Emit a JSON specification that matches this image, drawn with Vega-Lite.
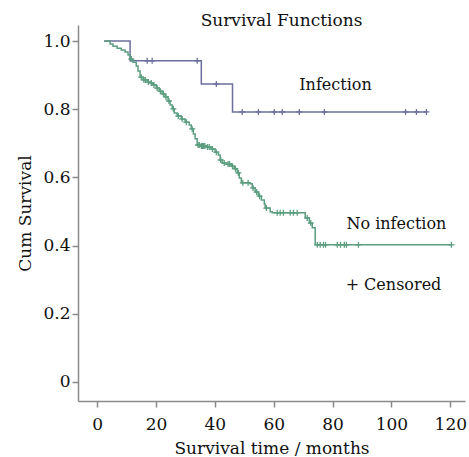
{
  "$schema": "https://vega.github.io/schema/vega-lite/v6.json",
  "width": 387,
  "height": 376,
  "autosize": {"type": "none"},
  "padding": {"left": 78, "top": 25, "right": 4, "bottom": 56},
  "background": "white",
  "config": {
    "view": {"stroke": null},
    "font": "DejaVu Serif",
    "axis": {
      "grid": false,
      "domainColor": "#8a8a8a",
      "domainWidth": 1.5,
      "tickColor": "#8a8a8a",
      "tickWidth": 1.5,
      "tickSize": 6,
      "labelFont": "DejaVu Serif",
      "labelFontSize": 17,
      "labelColor": "#111111",
      "titleFont": "DejaVu Serif",
      "titleFontSize": 17,
      "titleFontWeight": "normal",
      "titleColor": "#111111"
    }
  },
  "title": {
    "text": "Survival Functions",
    "font": "DejaVu Serif",
    "fontSize": 17,
    "fontWeight": "normal",
    "color": "#111111",
    "anchor": "middle",
    "frame": "group",
    "offset": -5,
    "dx": 10
  },
  "datasets": {
    "curves": [
      {"group": "Infection", "time": 2.4, "surv": 1.0},
      {"group": "Infection", "time": 11.2, "surv": 0.942},
      {"group": "Infection", "time": 35.4, "surv": 0.874},
      {"group": "Infection", "time": 46.0, "surv": 0.792},
      {"group": "Infection", "time": 111.9, "surv": 0.792},
      {"group": "No infection", "time": 2.4, "surv": 1.0},
      {"group": "No infection", "time": 4.4, "surv": 0.991},
      {"group": "No infection", "time": 5.4, "surv": 0.985},
      {"group": "No infection", "time": 6.8, "surv": 0.979},
      {"group": "No infection", "time": 8.2, "surv": 0.974},
      {"group": "No infection", "time": 9.5, "surv": 0.968},
      {"group": "No infection", "time": 10.5, "surv": 0.959},
      {"group": "No infection", "time": 11.2, "surv": 0.947},
      {"group": "No infection", "time": 12.2, "surv": 0.938},
      {"group": "No infection", "time": 13.3, "surv": 0.927},
      {"group": "No infection", "time": 13.9, "surv": 0.912},
      {"group": "No infection", "time": 14.6, "surv": 0.894},
      {"group": "No infection", "time": 15.6, "surv": 0.886},
      {"group": "No infection", "time": 17.0, "surv": 0.880},
      {"group": "No infection", "time": 18.0, "surv": 0.877},
      {"group": "No infection", "time": 19.0, "surv": 0.871},
      {"group": "No infection", "time": 20.1, "surv": 0.862},
      {"group": "No infection", "time": 21.1, "surv": 0.853},
      {"group": "No infection", "time": 22.1, "surv": 0.845},
      {"group": "No infection", "time": 23.1, "surv": 0.836},
      {"group": "No infection", "time": 24.1, "surv": 0.824},
      {"group": "No infection", "time": 24.8, "surv": 0.812},
      {"group": "No infection", "time": 25.5, "surv": 0.801},
      {"group": "No infection", "time": 26.2, "surv": 0.789},
      {"group": "No infection", "time": 27.2, "surv": 0.780},
      {"group": "No infection", "time": 28.6, "surv": 0.771},
      {"group": "No infection", "time": 29.9, "surv": 0.762},
      {"group": "No infection", "time": 31.3, "surv": 0.754},
      {"group": "No infection", "time": 32.0, "surv": 0.742},
      {"group": "No infection", "time": 32.7, "surv": 0.727},
      {"group": "No infection", "time": 33.3, "surv": 0.713},
      {"group": "No infection", "time": 34.0, "surv": 0.695},
      {"group": "No infection", "time": 35.0, "surv": 0.692},
      {"group": "No infection", "time": 37.1, "surv": 0.689},
      {"group": "No infection", "time": 38.8, "surv": 0.683},
      {"group": "No infection", "time": 40.1, "surv": 0.674},
      {"group": "No infection", "time": 41.2, "surv": 0.666},
      {"group": "No infection", "time": 41.8, "surv": 0.651},
      {"group": "No infection", "time": 42.5, "surv": 0.642},
      {"group": "No infection", "time": 43.9, "surv": 0.639},
      {"group": "No infection", "time": 45.6, "surv": 0.633},
      {"group": "No infection", "time": 46.6, "surv": 0.625},
      {"group": "No infection", "time": 47.6, "surv": 0.613},
      {"group": "No infection", "time": 48.3, "surv": 0.598},
      {"group": "No infection", "time": 49.0, "surv": 0.584},
      {"group": "No infection", "time": 52.0, "surv": 0.581},
      {"group": "No infection", "time": 52.7, "surv": 0.569},
      {"group": "No infection", "time": 53.7, "surv": 0.557},
      {"group": "No infection", "time": 54.8, "surv": 0.545},
      {"group": "No infection", "time": 55.8, "surv": 0.534},
      {"group": "No infection", "time": 56.8, "surv": 0.522},
      {"group": "No infection", "time": 57.1, "surv": 0.510},
      {"group": "No infection", "time": 58.8, "surv": 0.499},
      {"group": "No infection", "time": 59.5, "surv": 0.496},
      {"group": "No infection", "time": 70.7, "surv": 0.481},
      {"group": "No infection", "time": 72.1, "surv": 0.466},
      {"group": "No infection", "time": 73.1, "surv": 0.452},
      {"group": "No infection", "time": 74.1, "surv": 0.402},
      {"group": "No infection", "time": 120.4, "surv": 0.402}
    ],
    "censored": [
      {"group": "Infection", "time": 17.0, "surv": 0.942},
      {"group": "Infection", "time": 18.7, "surv": 0.942},
      {"group": "Infection", "time": 34.0, "surv": 0.942},
      {"group": "Infection", "time": 40.5, "surv": 0.874},
      {"group": "Infection", "time": 49.3, "surv": 0.792},
      {"group": "Infection", "time": 54.8, "surv": 0.792},
      {"group": "Infection", "time": 60.2, "surv": 0.792},
      {"group": "Infection", "time": 62.9, "surv": 0.792},
      {"group": "Infection", "time": 68.7, "surv": 0.792},
      {"group": "Infection", "time": 77.2, "surv": 0.792},
      {"group": "Infection", "time": 104.8, "surv": 0.792},
      {"group": "Infection", "time": 108.5, "surv": 0.792},
      {"group": "Infection", "time": 111.9, "surv": 0.792},
      {"group": "No infection", "time": 11.6, "surv": 0.947},
      {"group": "No infection", "time": 15.0, "surv": 0.894},
      {"group": "No infection", "time": 15.9, "surv": 0.886},
      {"group": "No infection", "time": 16.4, "surv": 0.886},
      {"group": "No infection", "time": 17.4, "surv": 0.880},
      {"group": "No infection", "time": 18.4, "surv": 0.877},
      {"group": "No infection", "time": 19.3, "surv": 0.871},
      {"group": "No infection", "time": 20.4, "surv": 0.862},
      {"group": "No infection", "time": 21.5, "surv": 0.853},
      {"group": "No infection", "time": 22.5, "surv": 0.845},
      {"group": "No infection", "time": 23.4, "surv": 0.836},
      {"group": "No infection", "time": 24.4, "surv": 0.824},
      {"group": "No infection", "time": 25.9, "surv": 0.801},
      {"group": "No infection", "time": 27.6, "surv": 0.780},
      {"group": "No infection", "time": 28.9, "surv": 0.771},
      {"group": "No infection", "time": 30.3, "surv": 0.762},
      {"group": "No infection", "time": 32.3, "surv": 0.742},
      {"group": "No infection", "time": 34.3, "surv": 0.695},
      {"group": "No infection", "time": 34.7, "surv": 0.695},
      {"group": "No infection", "time": 35.4, "surv": 0.692},
      {"group": "No infection", "time": 35.8, "surv": 0.692},
      {"group": "No infection", "time": 36.2, "surv": 0.692},
      {"group": "No infection", "time": 36.6, "surv": 0.692},
      {"group": "No infection", "time": 37.5, "surv": 0.689},
      {"group": "No infection", "time": 38.1, "surv": 0.689},
      {"group": "No infection", "time": 39.2, "surv": 0.683},
      {"group": "No infection", "time": 40.5, "surv": 0.674},
      {"group": "No infection", "time": 42.0, "surv": 0.651},
      {"group": "No infection", "time": 43.2, "surv": 0.642},
      {"group": "No infection", "time": 44.5, "surv": 0.639},
      {"group": "No infection", "time": 45.0, "surv": 0.639},
      {"group": "No infection", "time": 46.0, "surv": 0.633},
      {"group": "No infection", "time": 47.0, "surv": 0.625},
      {"group": "No infection", "time": 48.0, "surv": 0.613},
      {"group": "No infection", "time": 49.5, "surv": 0.584},
      {"group": "No infection", "time": 51.3, "surv": 0.584},
      {"group": "No infection", "time": 53.0, "surv": 0.569},
      {"group": "No infection", "time": 54.2, "surv": 0.557},
      {"group": "No infection", "time": 55.2, "surv": 0.545},
      {"group": "No infection", "time": 57.5, "surv": 0.510},
      {"group": "No infection", "time": 61.2, "surv": 0.496},
      {"group": "No infection", "time": 62.2, "surv": 0.496},
      {"group": "No infection", "time": 63.3, "surv": 0.496},
      {"group": "No infection", "time": 65.6, "surv": 0.496},
      {"group": "No infection", "time": 66.7, "surv": 0.496},
      {"group": "No infection", "time": 68.0, "surv": 0.496},
      {"group": "No infection", "time": 71.4, "surv": 0.481},
      {"group": "No infection", "time": 72.6, "surv": 0.466},
      {"group": "No infection", "time": 74.8, "surv": 0.402},
      {"group": "No infection", "time": 75.8, "surv": 0.402},
      {"group": "No infection", "time": 76.9, "surv": 0.402},
      {"group": "No infection", "time": 77.6, "surv": 0.402},
      {"group": "No infection", "time": 81.6, "surv": 0.402},
      {"group": "No infection", "time": 82.7, "surv": 0.402},
      {"group": "No infection", "time": 84.0, "surv": 0.402},
      {"group": "No infection", "time": 84.7, "surv": 0.402},
      {"group": "No infection", "time": 88.8, "surv": 0.402},
      {"group": "No infection", "time": 120.4, "surv": 0.402}
    ],
    "labels": [
      {"label": "Infection", "time": 81.0, "surv": 0.871},
      {"label": "No infection", "time": 101.7, "surv": 0.463},
      {"label": "+ Censored", "time": 100.7, "surv": 0.284}
    ]
  },
  "layer": [
    {
      "data": {"name": "curves"},
      "mark": {"type": "line", "interpolate": "step-after", "strokeWidth": 1.5},
      "encoding": {
        "x": {
          "field": "time", "type": "quantitative",
          "scale": {"domain": [-6.5, 125], "nice": false, "zero": false},
          "axis": {"values": [0, 20, 40, 60, 80, 100, 120], "title": "Survival time / months", "labelPadding": 9, "titlePadding": 8}
        },
        "y": {
          "field": "surv", "type": "quantitative",
          "scale": {"domain": [-0.056, 1.047], "nice": false, "zero": false},
          "axis": {"values": [0, 0.2, 0.4, 0.6, 0.8, 1.0], "labelExpr": "datum.value == 0 ? '0' : format(datum.value, '.1f')", "title": "Cum Survival", "labelPadding": 2, "titlePadding": 8}
        },
        "color": {
          "field": "group", "type": "nominal",
          "scale": {"domain": ["Infection", "No infection"], "range": ["#6c6f9c", "#5c9e80"]},
          "legend": null
        }
      }
    },
    {
      "data": {"name": "censored"},
      "mark": {"type": "point", "shape": "M-1,0L1,0M0,-1L0,1", "filled": false, "size": 36, "strokeWidth": 1.3, "opacity": 1},
      "encoding": {
        "x": {"field": "time", "type": "quantitative"},
        "y": {"field": "surv", "type": "quantitative"},
        "color": {"field": "group", "type": "nominal", "legend": null}
      }
    },
    {
      "data": {"name": "labels"},
      "mark": {"type": "text", "font": "DejaVu Serif", "fontSize": 16, "color": "#111111", "align": "center", "baseline": "middle"},
      "encoding": {
        "x": {"field": "time", "type": "quantitative"},
        "y": {"field": "surv", "type": "quantitative"},
        "text": {"field": "label"}
      }
    }
  ]
}
